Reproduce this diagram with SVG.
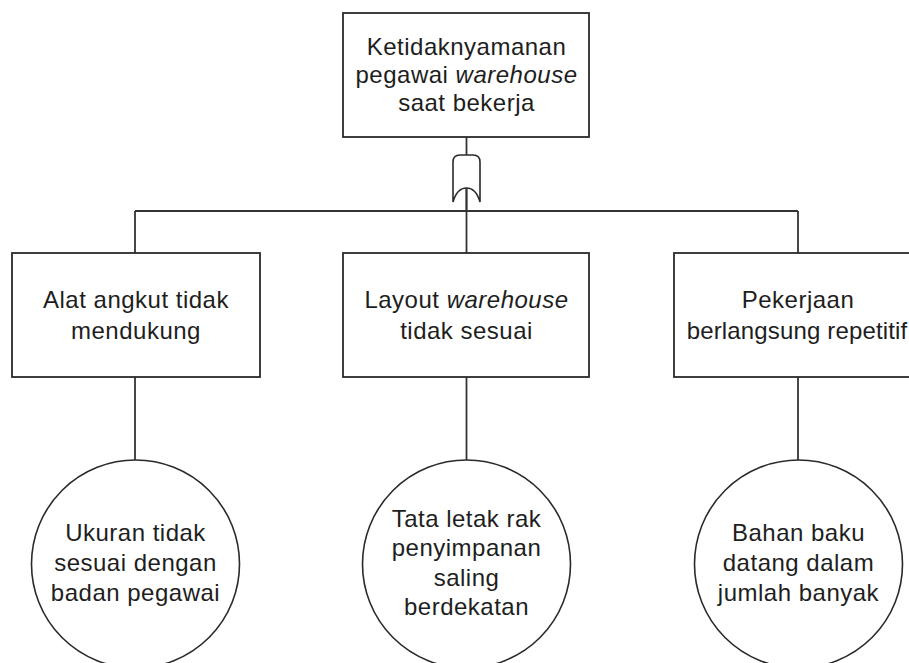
<svg xmlns="http://www.w3.org/2000/svg" width="909" height="663" viewBox="0 0 909 663">
<style>
.box{fill:#fff;stroke:#2a2a2a;stroke-width:1.8}
.ev{fill:#fff;stroke:#2a2a2a;stroke-width:1.6}
.ln{fill:none;stroke:#333;stroke-width:1.8}
.gate{fill:#fff;stroke:#2a2a2a;stroke-width:1.6}
text{font-family:"Liberation Sans",Arial,sans-serif;font-size:24px;fill:#1e1e1e;text-anchor:middle;letter-spacing:0.5px}
.i{font-style:italic}
.tight{letter-spacing:0.15px}
</style>
<rect width="909" height="663" fill="#fff"/>
<g id="connectors">
<line class="ln" x1="466.5" y1="137" x2="466.5" y2="155"/>
<line class="ln" x1="466.5" y1="188" x2="466.5" y2="253"/>
<line class="ln" x1="135" y1="211" x2="798" y2="211"/>
<line class="ln" x1="135" y1="211" x2="135" y2="253"/>
<line class="ln" x1="798" y1="211" x2="798" y2="253"/>
<line class="ln" x1="135" y1="377" x2="135" y2="460"/>
<line class="ln" x1="466.5" y1="377" x2="466.5" y2="460"/>
<line class="ln" x1="798" y1="377" x2="798" y2="460"/>
</g>
<g id="or-gate">
<path class="gate" d="M453,202 L453,162 Q453,155 460,155 L473,155 Q480,155 480,162 L480,202 Q476,188 466.5,188 Q457,188 453,202 Z"/>
<line class="ln" x1="466.5" y1="188" x2="466.5" y2="211"/>
</g>
<g id="top">
<rect class="box" x="343" y="13" width="246" height="124"/>
<text x="466.5" y="55">Ketidaknyamanan</text>
<text x="466.5" y="83">pegawai <tspan class="i">warehouse</tspan></text>
<text x="466.5" y="111">saat bekerja</text>
</g>
<g id="alat">
<rect class="box" x="12" y="253" width="248" height="124"/>
<text x="136" y="308">Alat angkut tidak</text>
<text x="136" y="339">mendukung</text>
</g>
<g id="layout">
<rect class="box" x="343" y="253" width="246" height="124"/>
<text x="466.5" y="308">Layout <tspan class="i">warehouse</tspan></text>
<text x="466.5" y="339">tidak sesuai</text>
</g>
<g id="pekerjaan">
<rect class="box" x="674" y="253" width="248" height="124"/>
<text x="798" y="308">Pekerjaan</text>
<text class="tight" x="797" y="339">berlangsung repetitif</text>
</g>
<g id="ukuran">
<circle class="ev" cx="135.5" cy="564" r="104"/>
<text x="135.5" y="541">Ukuran tidak</text>
<text x="135.5" y="571">sesuai dengan</text>
<text x="135.5" y="601">badan pegawai</text>
</g>
<g id="tata">
<circle class="ev" cx="466.5" cy="564" r="104"/>
<text x="466.5" y="527">Tata letak rak</text>
<text x="466.5" y="556">penyimpanan</text>
<text x="466.5" y="586">saling</text>
<text x="466.5" y="615">berdekatan</text>
</g>
<g id="bahan">
<circle class="ev" cx="798.5" cy="564" r="104"/>
<text x="798.5" y="541">Bahan baku</text>
<text x="798.5" y="571">datang dalam</text>
<text x="798.5" y="601">jumlah banyak</text>
</g>
</svg>
